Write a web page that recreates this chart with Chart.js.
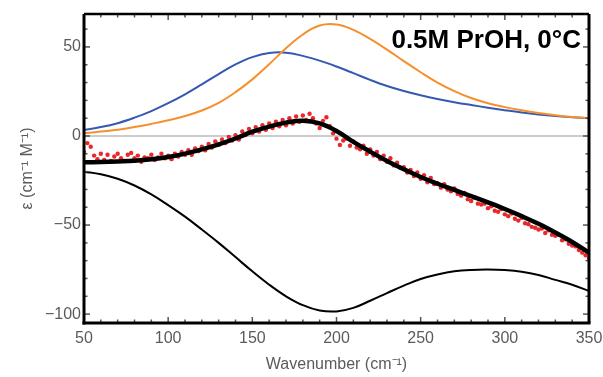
<!DOCTYPE html>
<html>
<head>
<meta charset="utf-8">
<script src="https://cdn.jsdelivr.net/npm/chart.js@4.4.1/dist/chart.umd.min.js"></script>
<style>
  html, body { margin: 0; padding: 0; background: #fff; }
  #wrap { width: 603px; height: 377px; }
</style>
</head>
<body>
<div id="wrap"><canvas id="chart" width="603" height="377"></canvas></div>
<script>
// wavenumber grid for the smooth model curves (cm-1)
const curveX = [50, 60, 70, 80, 90, 100, 110, 120, 130, 140, 150, 160, 170, 180, 190, 200,
  210, 220, 230, 240, 250, 260, 270, 280, 290, 300, 310, 320, 330, 340, 350];

const blueCurve = [3.4, 5.0, 7.2, 10.3, 14, 18.4, 23.4, 29, 34.8, 40.2, 44.3, 46.6, 46.8, 45, 42.3, 39,
  35.3, 31.5, 28.1, 25.3, 22.9, 20.8, 19, 17.4, 15.9, 14.5, 13.2, 12.1, 11.2, 10.5, 9.9];

const orangeCurve = [1.5, 2.5, 3.5, 5, 6.8, 8.8, 11.2, 14.3, 18.6, 24.6, 31.8, 40.3, 49.3, 57, 62, 62.6,
  59.6, 54.5, 48.5, 42, 35.8, 30, 25.2, 21.3, 18.4, 16.2, 14.4, 12.9, 11.7, 10.7, 9.9];

const lowerCurve = [-20, -21.5, -24, -27.8, -32.8, -38.8, -45.3, -52.5, -60, -68, -76, -83.5, -90, -95, -98, -98.5,
  -96.5, -92.5, -88.2, -84, -80.3, -77.8, -76, -75.2, -75, -75.3, -76.2, -78, -80.8, -83.5, -87];

const fitCurve = [-14.8, -14.6, -14.3, -13.9, -13.1, -11.8, -9.9, -7.5, -4.7, -1.4, 2.4, 5.3, 7.5, 8.6, 7.1, 2.8,
  -3.3, -8.8, -14, -18.7, -23, -26.8, -30.3, -33.8, -37.3, -41, -45, -49.3, -54.2, -59.5, -65.5];

// measured points (red dots)
const dataX = [50, 52, 54, 56, 58, 60, 62, 64, 66, 68, 70, 72, 74, 76, 78, 80, 82, 84, 86, 88, 90,
  92, 94, 96, 98, 100, 102, 104, 106, 108, 110, 112, 114, 116, 118, 120, 122, 124, 126, 128, 130,
  132, 134, 136, 138, 140, 142, 144, 146, 148, 150, 152, 154, 156, 158, 160, 162, 164, 166, 168, 170,
  172, 174, 176, 178, 180, 182, 184, 186, 188, 190, 192, 194, 196, 198, 200, 202, 204, 206, 208, 210,
  212, 214, 216, 218, 220, 222, 224, 226, 228, 230, 232, 234, 236, 238, 240, 242, 244, 246, 248, 250,
  252, 254, 256, 258, 260, 262, 264, 266, 268, 270, 272, 274, 276, 278, 280, 282, 284, 286, 288, 290,
  292, 294, 296, 298, 300, 302, 304, 306, 308, 310, 312, 314, 316, 318, 320, 322, 324, 326, 328, 330,
  332, 334, 336, 338, 340, 342, 344, 346, 348, 350];

const dataY = [-9, -4, -6, -11, -13, -10, -13.5, -10.5, -14, -11.5, -10, -12.5, -14, -10.5, -9.5, -12.5, -11, -14.5, -12, -12.5, -10.5,
  -13.5, -12, -10, -12.5, -11, -13, -10, -11.5, -9, -10.5, -8, -10.5, -7, -8.5, -6, -8, -4.5, -6.5, -3, -5,
  -2, -4, -0.5, -2.5, 0.5, -2, 2.5, 0.5, 4, 1.5, 5, 2.5, 6, 3.5, 7, 4.5, 8, 5.5, 9, 6,
  10, 7, 11, 8, 11.5, 9, 12.5, 10, 7, 4.5, 8.5, 10.5, 5.5, 1.5, -1.5, -5, -2.5, -1.5, -5.5, -3,
  -6.5, -7.5, -5.5, -10, -7.5, -11, -9, -13, -11, -14.5, -12.5, -16.5, -15, -18, -17.5, -20.5, -19, -22.5, -20.5, -24,
  -22, -26, -23.5, -27, -26.5, -29, -27, -30, -31, -29.5, -32.5, -33.5, -32, -35.5, -36.5, -34.5, -38, -38.5, -38, -40.5,
  -39.5, -42, -42.5, -41, -44, -45, -43.5, -46.5, -47.5, -46, -49, -49.5, -51, -51.5, -52.5, -52, -54.5, -53, -55.5, -56,
  -55.5, -58.5, -58, -60.5, -61.5, -62, -64, -65.5, -67, -68.5];

// axis ticks
const xTicks = [50, 100, 150, 200, 250, 300, 350];
const yTicks = [-100, -50, 0, 50];
const xMinor = [50, 60, 70, 80, 90, 100, 110, 120, 130, 140, 150, 160, 170, 180, 190, 200,
  210, 220, 230, 240, 250, 260, 270, 280, 290, 300, 310, 320, 330, 340, 350];
const yMinor = [-100, -90, -80, -70, -60, -50, -40, -30, -20, -10, 0, 10, 20, 30, 40, 50, 60];

const label = '0.5M PrOH, 0°C';
const textColor = '#5b5b5b';

const pts = (xs, ys) => xs.map((x, i) => ({ x, y: ys[i] }));
const minus = v => String(v).replace('-', '\u2212');

const framePlugin = {
  id: 'frame',
  beforeDatasetsDraw(chart) {
    const { ctx, chartArea: a, scales: { y } } = chart;
    const y0 = y.getPixelForValue(0);
    ctx.save();
    ctx.strokeStyle = '#9a9a9a';
    ctx.lineWidth = 1.2;
    ctx.beginPath();
    ctx.moveTo(a.left, y0);
    ctx.lineTo(a.right, y0);
    ctx.stroke();
    ctx.restore();
  },
  afterDraw(chart) {
    const { ctx, chartArea: a, scales: { x, y } } = chart;
    ctx.save();
    ctx.strokeStyle = '#555';
    ctx.lineWidth = 1.5;
    const seg = (x1, y1, x2, y2) => { ctx.beginPath(); ctx.moveTo(x1, y1); ctx.lineTo(x2, y2); ctx.stroke(); };
    xMinor.forEach(v => {
      const px = x.getPixelForValue(v);
      const len = xTicks.includes(v) ? 6 : 3.5;
      seg(px, a.bottom, px, a.bottom - len);
      seg(px, a.top, px, a.top + len);
    });
    yMinor.forEach(v => {
      const py = y.getPixelForValue(v);
      const len = yTicks.includes(v) ? 6 : 3.5;
      seg(a.left, py, a.left + len, py);
      seg(a.right, py, a.right - len, py);
    });
    ctx.strokeStyle = '#000';
    ctx.lineWidth = 3;
    seg(a.left, a.top, a.left, a.bottom + 1.5);
    seg(a.left - 1.5, a.bottom, a.right + 1.5, a.bottom);
    seg(a.right, a.bottom, a.right, a.top);
    ctx.lineWidth = 2.5;
    seg(a.left, a.top, a.right, a.top);

    ctx.fillStyle = '#000';
    ctx.font = "bold 26px 'Liberation Sans', Arial, sans-serif";
    ctx.textAlign = 'right';
    ctx.textBaseline = 'alphabetic';
    ctx.fillText(label, 581, 48);
    ctx.restore();
  }
};

Chart.defaults.font.family = "'Liberation Sans', Arial, sans-serif";

const curve = { pointRadius: 0, tension: 0.4 };

new Chart(document.getElementById('chart'), {
  type: 'line',
  data: {
    datasets: [
      { ...curve, data: pts(curveX, fitCurve), borderColor: '#000', borderWidth: 4.5 },
      { data: pts(dataX, dataY), showLine: false, pointRadius: 2.2, pointBackgroundColor: '#e8282b', pointBorderWidth: 0 },
      { ...curve, data: pts(curveX, lowerCurve), borderColor: '#000', borderWidth: 2 },
      { ...curve, data: pts(curveX, orangeCurve), borderColor: '#f5902c', borderWidth: 2 },
      { ...curve, data: pts(curveX, blueCurve), borderColor: '#3559b3', borderWidth: 2 }
    ]
  },
  options: {
    responsive: false,
    animation: false,
    devicePixelRatio: 1,
    layout: { padding: { top: 14, right: 14, left: 0, bottom: 0 } },
    plugins: { legend: { display: false }, tooltip: { enabled: false } },
    scales: {
      x: {
        type: 'linear', min: 50, max: 350,
        grid: { display: false, drawTicks: false }, border: { display: false },
        afterBuildTicks: s => { s.ticks = xTicks.map(v => ({ value: v })); },
        afterFit: s => { s.height = 54; s.paddingLeft = 0; s.paddingRight = 0; },
        ticks: { color: textColor, font: { size: 16 }, padding: 6, maxRotation: 0, autoSkip: false },
        title: { display: true, text: 'Wavenumber (cm\u207B\u00B9)', color: textColor, font: { size: 16 }, padding: { top: 2.4, bottom: 2.4 } }
      },
      y: {
        type: 'linear', min: -105, max: 68.5,
        grid: { display: false, drawTicks: false }, border: { display: false },
        afterBuildTicks: s => { s.ticks = yTicks.map(v => ({ value: v })); },
        afterFit: s => { s.width = 84; s.paddingTop = 0; s.paddingBottom = 0; },
        ticks: { color: textColor, font: { size: 16 }, padding: 3, callback: minus },
        title: { display: true, text: '\u03B5 (cm\u207B\u00B9 M\u207B\u00B9)', color: textColor, font: { size: 16 }, padding: { top: 18.4, bottom: 0 } }
      }
    }
  },
  plugins: [framePlugin]
});
</script>
</body>
</html>
